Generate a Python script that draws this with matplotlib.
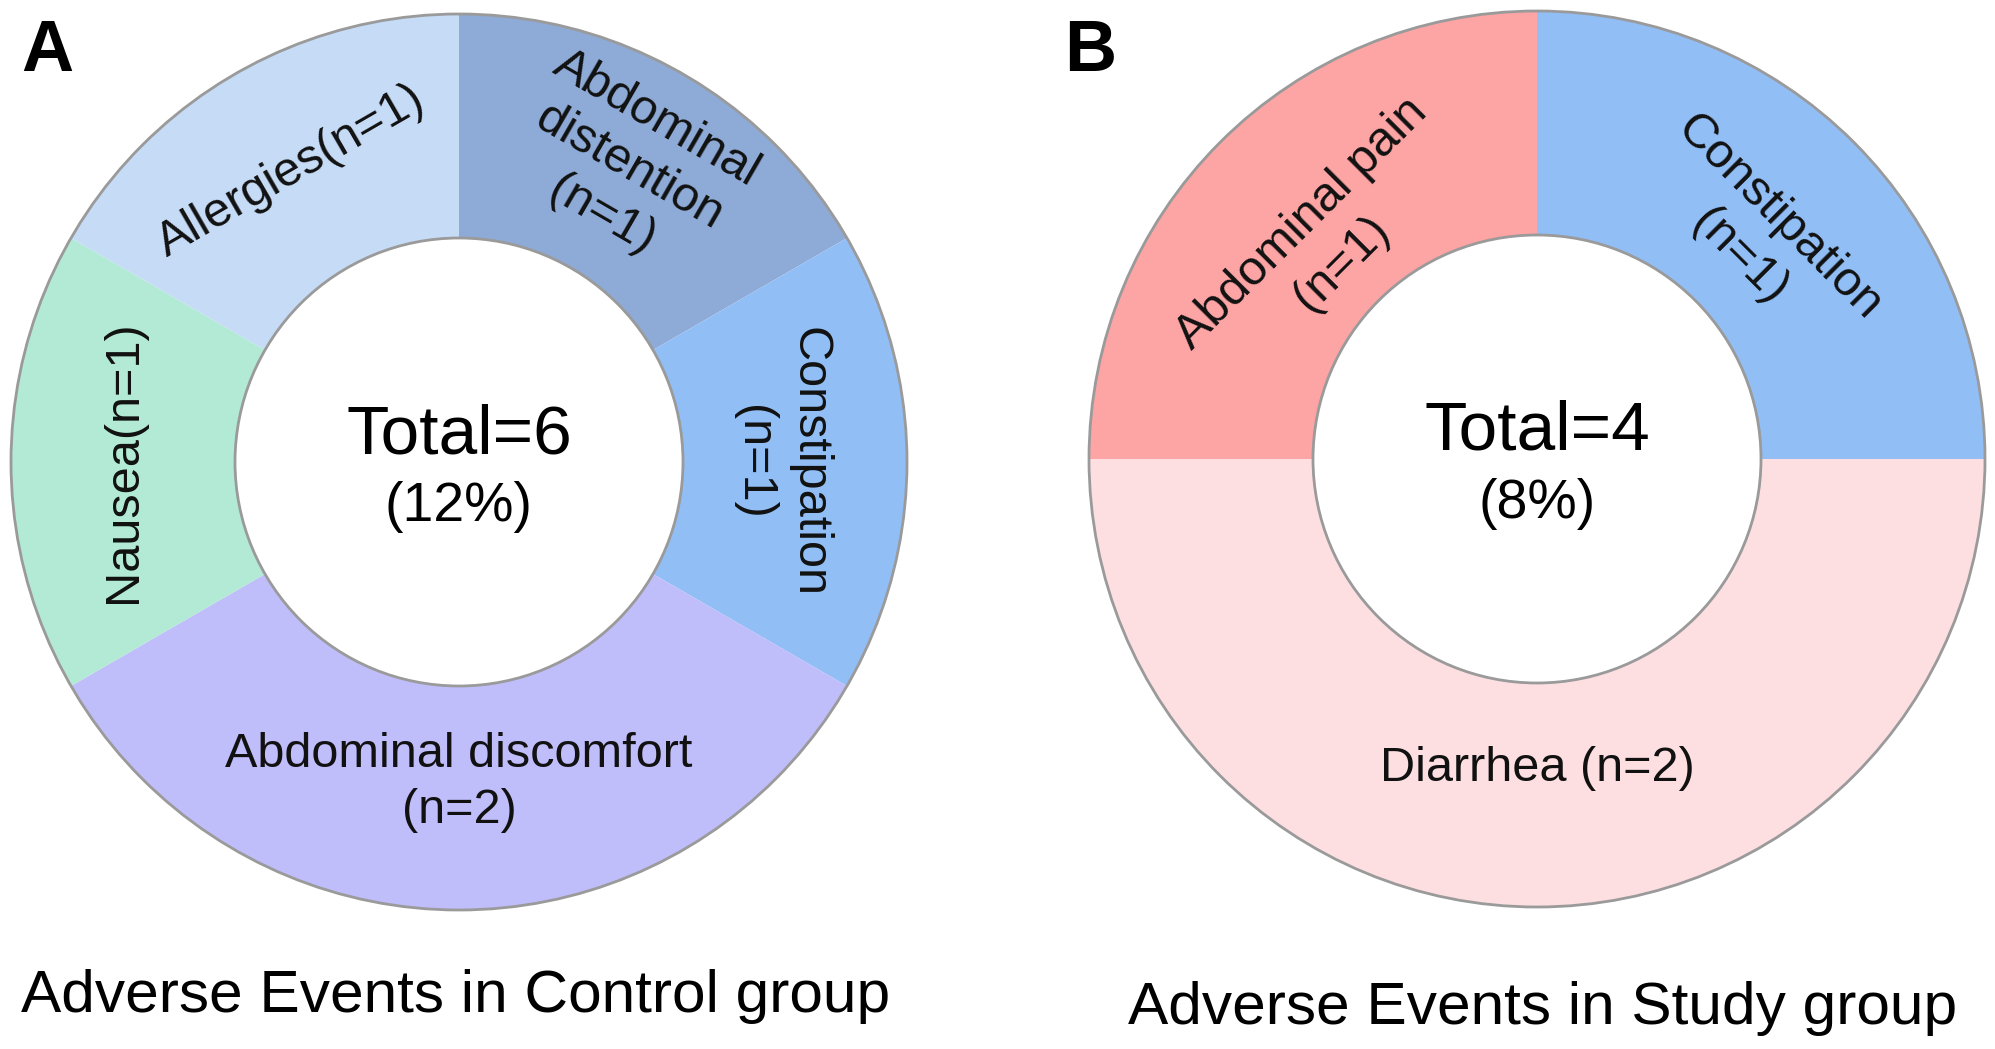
import numpy as np
import matplotlib.pyplot as plt
from matplotlib.patches import Circle

plt.rcParams['font.family'] = ['Liberation Sans', 'DejaVu Sans']

# control group
control_labels = ["Abdominal\ndistention\n(n=1)", "Constipation\n(n=1)",
                  "Abdominal discomfort\n(n=2)", "Nausea(n=1)", "Allergies(n=1)"]
control_counts = [1, 1, 2, 1, 1]
control_colors = ["#8eaad6", "#92bef6", "#c0bdfb", "#b2ead5", "#c6dbf6"]
control_total = 6
control_pct = 12

# study group
study_labels = ["Constipation\n(n=1)", "Diarrhea (n=2)", "Abdominal pain\n(n=1)"]
study_counts = [1, 2, 1]
study_colors = ["#92bef6", "#fddfe2", "#fda4a4"]
study_total = 4
study_pct = 8

W, H = 1995, 1049
fig = plt.figure(figsize=(W / 100, H / 100), dpi=100)
ax = fig.add_axes([0, 0, 1, 1])

R = 448
grey = "#9a9a9a"


def donut(cx, cy, counts, colors, labels, label_r, total, pct, title, title_xy, letter, letter_xy):
    wedges, _ = ax.pie(counts, colors=colors, startangle=90, counterclock=False,
                       center=(cx, cy), radius=R,
                       wedgeprops=dict(width=R * 0.5, linewidth=0))
    ax.add_patch(Circle((cx, cy), R, fill=False, ec=grey, lw=2))
    ax.add_patch(Circle((cx, cy), R * 0.5, fill=False, ec=grey, lw=2))
    for w, lab, lr in zip(wedges, labels, label_r):
        th = (w.theta1 + w.theta2) / 2
        t = np.deg2rad(th)
        rot = th - 90 if np.sin(t) > -0.5 else th + 90
        ax.text(cx + lr * R * np.cos(t), cy + lr * R * np.sin(t), lab,
                rotation=rot, ha="center", va="center", fontsize=35,
                linespacing=1.3, color="#111111")
    ax.text(cx, cy + 27, f"Total={total}", ha="center", va="center", fontsize=50)
    ax.text(cx, cy - 45, f"({pct}%)", ha="center", va="center", fontsize=40)
    ax.text(title_xy[0], title_xy[1], title, ha="center", va="center", fontsize=43.5)
    ax.text(letter_xy[0], letter_xy[1], letter, ha="center", va="center",
            fontsize=52, fontweight="bold")


donut(459, H - 462, control_counts, control_colors, control_labels,
      [0.76, 0.72, 0.715, 0.75, 0.75], control_total, control_pct,
      "Adverse Events in Control group", (456, H - 996), "A", (47, H - 52))
donut(1537, H - 459, study_counts, study_colors, study_labels,
      [0.70, 0.69, 0.68], study_total, study_pct,
      "Adverse Events in Study group", (1543, H - 1009), "B", (1090, H - 52))

ax.set_xlim(0, W)
ax.set_ylim(0, H)
ax.set_aspect("equal")
ax.axis("off")

fig.savefig("out.png", dpi=100)
